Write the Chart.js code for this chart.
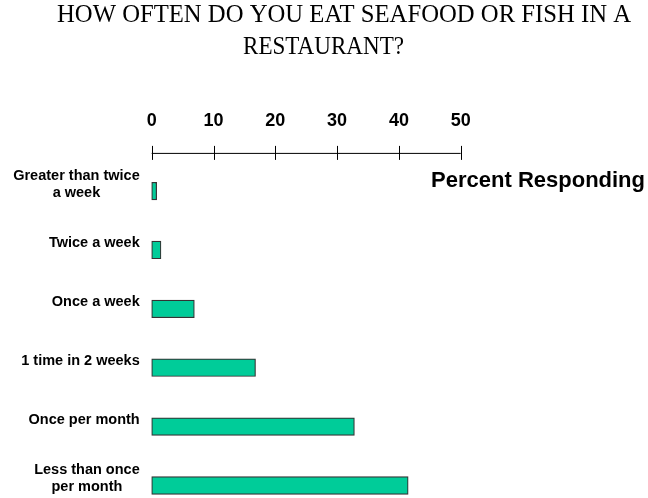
<!DOCTYPE html>
<html>
<head>
<meta charset="utf-8">
<script src="https://cdn.jsdelivr.net/npm/chart.js@4"></script>
<style>
    html, body { margin: 0; padding: 0; background: #fff; }
    canvas { display: block; }
</style>
</head>
<body>
<canvas id="chart" width="648" height="498"></canvas>
<script>
// Answer categories, top to bottom. Arrays are wrapped labels.
const categories = [
    ['Greater than twice', 'a week'],
    'Twice a week',
    'Once a week',
    '1 time in 2 weeks',
    'Once per month',
    ['Less than once', 'per month']
];

// Percent of respondents per category.
const percents = [0.8, 1.5, 6.9, 16.8, 32.8, 41.5];

// Percent axis range and tick step.
const axisMin = 0;
const axisMax = 50;
const axisStep = 10;

const titleLines = ['HOW OFTEN DO YOU EAT SEAFOOD OR FISH IN A', 'RESTAURANT?'];
const axisTitle = 'Percent Responding';

const sansBold = size => `bold ${size}px "Liberation Sans", Arial, sans-serif`;


/**
 * Draws the title, the crossed-tick axis line, the category labels
 * and the axis caption on top of the bars.
 */
const decorPlugin = {
    id: 'decor',
    afterDraw(chart) {
        const ctx = chart.ctx;
        const x = chart.scales.x;
        const y = chart.scales.y;
        const area = chart.chartArea;
        ctx.save();

        // title, squeezed a little like the narrow serif face
        ctx.fillStyle = '#000';
        ctx.font = '25px "Liberation Serif", "Times New Roman", serif';
        ctx.textBaseline = 'alphabetic';
        ctx.textAlign = 'left';
        ctx.fillText(titleLines[0], 57, 21.7, 574);
        ctx.fillText(titleLines[1], 243, 54.3, 161);

        // axis line with tick marks crossing it
        const axisY = area.top - 38.2;
        ctx.strokeStyle = '#000';
        ctx.lineWidth = 1;
        ctx.beginPath();
        ctx.moveTo(x.getPixelForValue(axisMin), axisY + 0.5);
        ctx.lineTo(x.getPixelForValue(axisMax), axisY + 0.5);
        for (const tick of x.ticks) {
            const px = Math.round(x.getPixelForValue(tick.value)) + 0.5;
            ctx.moveTo(px, axisY - 7);
            ctx.lineTo(px, axisY + 7);
        }
        ctx.stroke();

        // category labels: block right aligned, lines centred in the block
        ctx.font = sansBold(14.5);
        const right = area.left - 12;
        const lineHeight = 17.4;
        categories.forEach((label, i) => {
            const lines = Array.isArray(label) ? label : [label];
            const widest = Math.max(...lines.map(l => ctx.measureText(l).width));
            const cx = right - widest / 2;
            const first = y.getPixelForValue(i) - 8 + 5.2 - (lines.length - 1) * lineHeight / 2;
            ctx.textAlign = 'center';
            lines.forEach((line, j) => ctx.fillText(line, cx, first + j * lineHeight));
        });

        // axis caption
        ctx.font = sansBold(22);
        ctx.textAlign = 'right';
        ctx.fillText(axisTitle, 645, 186.7, 214);
        ctx.restore();
    }
};


new Chart(document.getElementById('chart'), {
    type: 'bar',
    data: {
        labels: categories,
        datasets: [{
            data: percents,
            backgroundColor: '#00CC99',
            borderColor: '#333333',
            borderWidth: 1.2,
            borderSkipped: false,
            barThickness: 17.6,
            clip: false
        }]
    },
    options: {
        indexAxis: 'y',
        responsive: false,
        animation: false,
        layout: {
            padding: { top: 51.5, left: 151.7, right: 187.3, bottom: 12.5 }
        },
        plugins: {
            legend: { display: false },
            title: { display: false },
            tooltip: { enabled: false }
        },
        scales: {
            x: {
                position: 'top',
                min: axisMin,
                max: axisMax,
                ticks: {
                    stepSize: axisStep,
                    color: '#000',
                    padding: 59,
                    font: { family: '"Liberation Sans", Arial, sans-serif', weight: 'bold', size: 18 }
                },
                grid: { display: false, drawTicks: false },
                border: { display: false }
            },
            y: {
                display: false,
                offset: false
            }
        }
    },
    plugins: [decorPlugin]
});
</script>
</body>
</html>
